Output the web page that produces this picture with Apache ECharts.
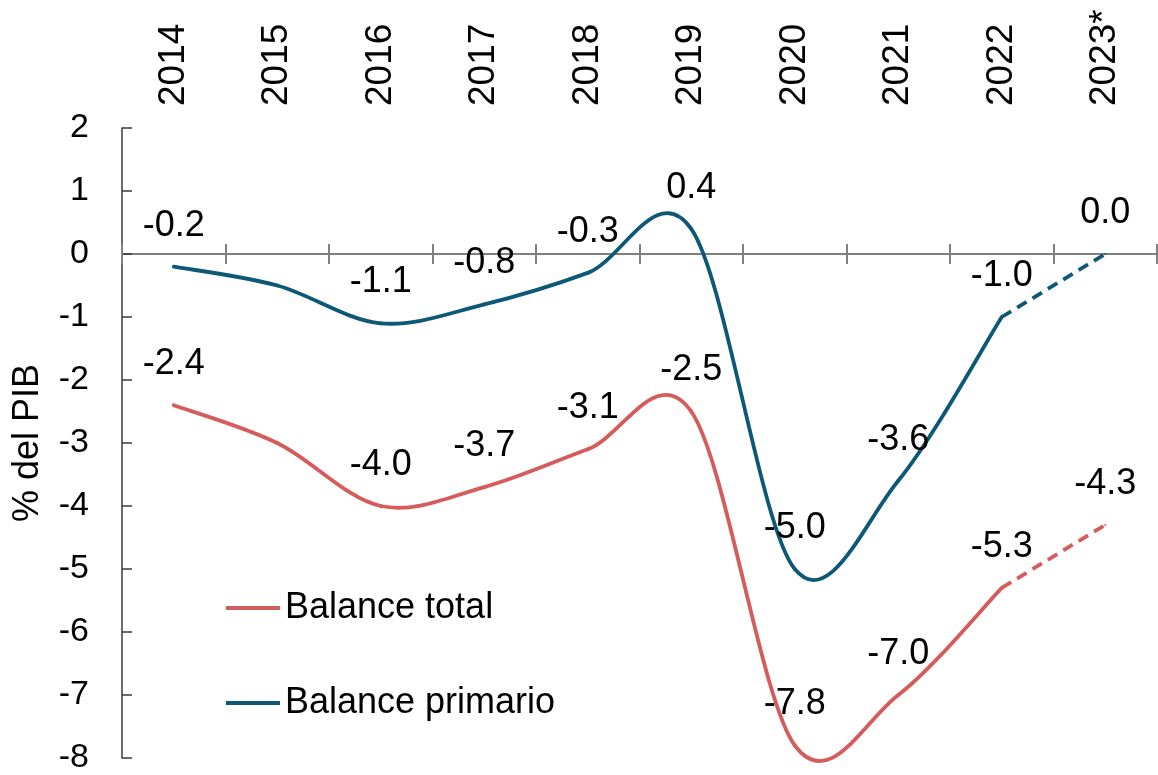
<!DOCTYPE html>
<html>
<head>
<meta charset="utf-8">
<script src="https://cdn.jsdelivr.net/npm/echarts@6/dist/echarts.min.js"></script>
<style>
  html, body { margin: 0; padding: 0; background: #fff; }
  #chart { width: 1158px; height: 775px; }
</style>
</head>
<body>
<div id="chart"></div>
<script>
// data
var years = ['2014', '2015', '2016', '2017', '2018', '2019', '2020', '2021', '2022', '2023*'];
var balanceTotal = [-2.4, -3.0, -4.0, -3.7, -3.1, -2.5, -7.8, -7.0, -5.3, -4.3];
var balancePrimario = [-0.2, -0.5, -1.1, -0.8, -0.3, 0.4, -5.0, -3.6, -1.0, 0.0];
var yTicks = { min: -8, max: 2, step: 1 };
var lastActual = 8; // 2022, after this the line is a projection
var noLabel = [1];  // 2015 has no data label

var RED = '#D65B5B';
var BLUE = '#0D5877';
var FONT = 'Liberation Sans, Arial, sans-serif';

// solid part, smoothed the way the spreadsheet does it (catmull-rom, 1/6)
function smoothLine(name, color, arr) {
    var pts = arr.slice(0, lastActual + 1).map(function (v, i) { return [i, v]; });
    return {
        name: name,
        type: 'custom',
        xAxisIndex: 1,
        data: pts,
        encode: { x: 0, y: 1 },
        itemStyle: { color: color },
        silent: true,
        z: 3,
        renderItem: function (params, api) {
            var i = params.dataIndex;
            if (i >= pts.length - 1) return null;
            var c = function (k) {
                k = Math.max(0, Math.min(pts.length - 1, k));
                return api.coord(pts[k]);
            };
            var p0 = c(i - 1), p1 = c(i), p2 = c(i + 1), p3 = c(i + 2);
            return {
                type: 'bezierCurve',
                shape: {
                    x1: p1[0], y1: p1[1],
                    x2: p2[0], y2: p2[1],
                    cpx1: p1[0] + (p2[0] - p0[0]) / 6,
                    cpy1: p1[1] + (p2[1] - p0[1]) / 6,
                    cpx2: p2[0] - (p3[0] - p1[0]) / 6,
                    cpy2: p2[1] - (p3[1] - p1[1]) / 6
                },
                style: { stroke: color, lineWidth: 3.8, fill: null, lineCap: 'round' }
            };
        }
    };
}

function dashedLine(color, arr) {
    return {
        name: 'proj',
        type: 'line',
        xAxisIndex: 1,
        data: arr.map(function (v, i) { return i < lastActual ? null : v; }),
        showSymbol: false,
        symbol: 'none',
        lineStyle: { color: color, width: 3.8, type: [11, 7] },
        itemStyle: { color: color },
        emphasis: { disabled: true },
        silent: true,
        z: 3
    };
}

// invisible line that only carries the data labels
function labels(color, arr) {
    return {
        name: 'lbl',
        type: 'line',
        xAxisIndex: 1,
        data: arr.map(function (v, i) {
            return { value: v, label: { show: noLabel.indexOf(i) == -1 } };
        }),
        symbol: 'circle',
        symbolSize: 2,
        showSymbol: true,
        itemStyle: { color: color },
        lineStyle: { opacity: 0 },
        label: {
            show: true,
            position: 'top',
            distance: 22,
            color: '#000',
            fontSize: 36,
            fontFamily: FONT,
            formatter: function (p) { return p.value.toFixed(1); }
        },
        emphasis: { disabled: true },
        silent: true,
        z: 4
    };
}

var chart = echarts.init(document.getElementById('chart'), null, { renderer: 'canvas' });

var option = {
    animation: false,
    grid: { left: 122, right: 1, top: 128, bottom: 10, containLabel: false },
    legend: {
        orient: 'vertical',
        left: 221,
        top: 585,
        itemGap: 59,
        itemWidth: 54,
        itemHeight: 4,
        icon: 'rect',
        textStyle: { color: '#000', fontSize: 36, fontFamily: FONT },
        data: ['Balance total', 'Balance primario']
    },
    xAxis: [
        {
            type: 'category',
            position: 'top',
            data: years,
            boundaryGap: true,
            axisLine: { show: false },
            axisTick: { show: false },
            axisLabel: { rotate: 90, margin: 22, color: '#000', fontSize: 37, fontFamily: FONT, interval: 0 }
        },
        {
            type: 'category',
            position: 'bottom',
            data: years,
            boundaryGap: true,
            axisLine: { show: true, onZero: true, onZeroAxisIndex: 0, lineStyle: { color: '#808080', width: 2 } },
            axisTick: { show: true, inside: false, length: 10, interval: 0, lineStyle: { color: '#808080', width: 2 } },
            axisLabel: { show: false }
        },
        {
            type: 'category',
            position: 'top',
            data: years,
            boundaryGap: true,
            axisLine: { show: false, onZero: true, onZeroAxisIndex: 0 },
            axisTick: { show: true, inside: false, length: 10, interval: 0, lineStyle: { color: '#808080', width: 2 } },
            axisLabel: { show: false }
        }
    ],
    yAxis: {
        type: 'value',
        min: yTicks.min,
        max: yTicks.max,
        interval: yTicks.step,
        name: '% del PIB',
        nameLocation: 'middle',
        nameGap: 76,
        nameTextStyle: { color: '#000', fontSize: 36, fontFamily: FONT },
        axisLine: { show: true, lineStyle: { color: '#3a3a3a', width: 1.5 } },
        axisTick: { show: true, inside: true, length: 10, lineStyle: { color: '#3a3a3a', width: 1.5 } },
        axisLabel: { margin: 33, color: '#000', fontSize: 34, fontFamily: FONT },
        splitLine: { show: false }
    },
    series: [
        smoothLine('Balance total', RED, balanceTotal),
        smoothLine('Balance primario', BLUE, balancePrimario),
        dashedLine(RED, balanceTotal),
        dashedLine(BLUE, balancePrimario),
        labels(RED, balanceTotal),
        labels(BLUE, balancePrimario)
    ]
};

chart.setOption(option);
</script>
</body>
</html>
